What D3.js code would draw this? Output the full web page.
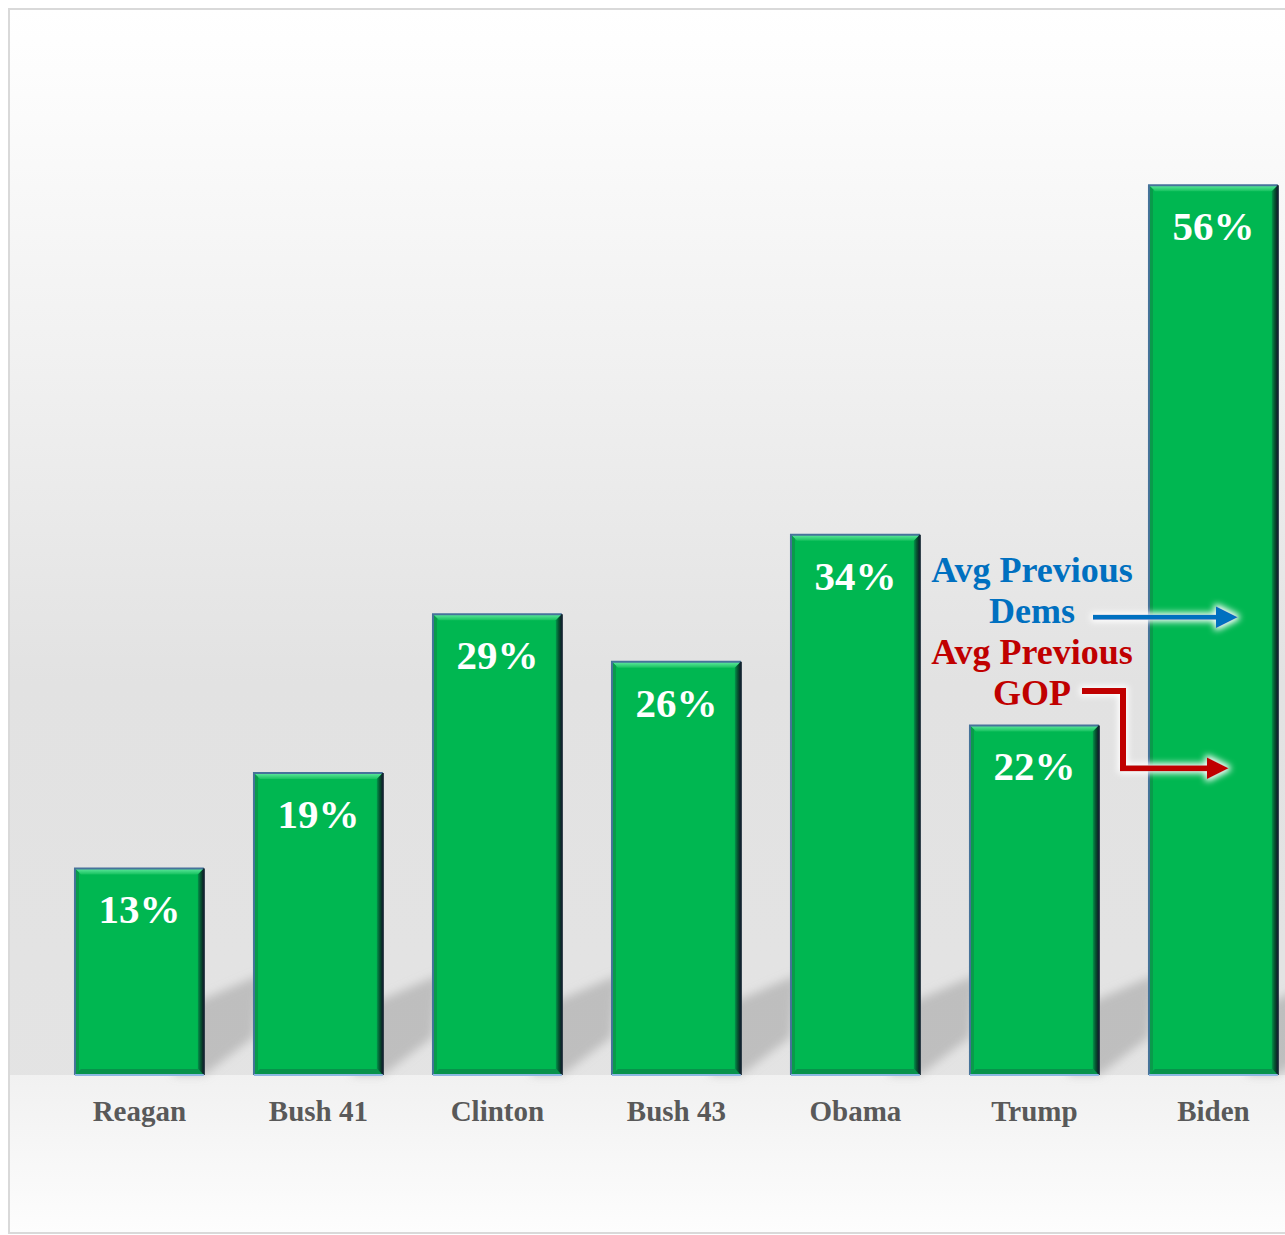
<!DOCTYPE html>
<html>
<head>
<meta charset="utf-8">
<script src="https://cdn.jsdelivr.net/npm/d3@7"></script>
<style>
  html, body { margin: 0; padding: 0; background: #ffffff; }
  svg { display: block; }
</style>
</head>
<body>
<svg id="chart" width="1285" height="1235"></svg>
<script>
// Presidents and share values (%)
const presidents = ["Reagan", "Bush 41", "Clinton", "Bush 43", "Obama", "Trump", "Biden"];
const shares = [13, 19, 29, 26, 34, 22, 56];
const shareLabels = ["13%", "19%", "29%", "26%", "34%", "22%", "56%"];

// Reference levels marked on the last bar
const avgLabels = [["Avg Previous", "Dems"], ["Avg Previous", "GOP"]];
const avgValues = [28.8, 19.3];

const baseY = 1075;
const svg = d3.select("#chart");
const defs = svg.append("defs");

// Background gradients
const bg = defs.append("linearGradient").attr("id", "bgGrad")
  .attr("x1", 0).attr("y1", 0).attr("x2", 0).attr("y2", 1);
[[0, "#ffffff"], [0.05, "#fdfdfd"], [0.3, "#f0f0f0"], [0.55, "#e2e2e2"], [1, "#e4e4e4"]]
  .forEach(([o, c]) => bg.append("stop").attr("offset", o).attr("stop-color", c));
const floor = defs.append("linearGradient").attr("id", "floorGrad")
  .attr("x1", 0).attr("y1", 0).attr("x2", 0).attr("y2", 1);
[[0, "#f1f1f1"], [1, "#fdfdfd"]]
  .forEach(([o, c]) => floor.append("stop").attr("offset", o).attr("stop-color", c));

// Bevel gradients
const topBevel = defs.append("linearGradient").attr("id", "topBevel")
  .attr("x1", 0).attr("y1", 0).attr("x2", 0).attr("y2", 1);
[[0, "#63eaa0"], [1, "#16c25f"]]
  .forEach(([o, c]) => topBevel.append("stop").attr("offset", o).attr("stop-color", c));
const rightBevel = defs.append("linearGradient").attr("id", "rightBevel")
  .attr("x1", 0).attr("y1", 0).attr("x2", 1).attr("y2", 0);
[[0, "#03934a"], [0.5, "#06502f"], [1, "#0c1f24"]]
  .forEach(([o, c]) => rightBevel.append("stop").attr("offset", o).attr("stop-color", c));

const blur = defs.append("filter").attr("id", "shadowBlur")
  .attr("x", "-50%").attr("y", "-50%").attr("width", "200%").attr("height", "200%");
blur.append("feGaussianBlur").attr("stdDeviation", 5);

const glow = defs.append("filter").attr("id", "glow")
  .attr("x", "-20%").attr("y", "-50%").attr("width", "140%").attr("height", "200%");
glow.append("feMorphology").attr("in", "SourceAlpha").attr("operator", "dilate").attr("radius", 2).attr("result", "d");
glow.append("feGaussianBlur").attr("in", "d").attr("stdDeviation", 3).attr("result", "b");
glow.append("feFlood").attr("flood-color", "#ffffff").attr("result", "w");
glow.append("feComposite").attr("in", "w").attr("in2", "b").attr("operator", "in").attr("result", "wb");
const gm = glow.append("feMerge");
gm.append("feMergeNode").attr("in", "wb");
gm.append("feMergeNode").attr("in", "SourceGraphic");

// Frame and backgrounds
svg.append("rect").attr("x", 9).attr("y", 9).attr("width", 1300).attr("height", 1224)
  .attr("fill", "url(#bgGrad)");
svg.append("rect").attr("x", 9).attr("y", baseY).attr("width", 1300).attr("height", 1233 - baseY)
  .attr("fill", "url(#floorGrad)");
svg.append("rect").attr("x", 9).attr("y", 9).attr("width", 1300).attr("height", 1224)
  .attr("fill", "none").attr("stroke", "#d9d9d9").attr("stroke-width", 2);

// Scales
const x = d3.scaleBand().domain(presidents).range([49.9, 1302.9])
  .paddingInner(0.28).paddingOuter(0.14);
const y = d3.scaleLinear().domain([0, 60]).range([baseY, baseY - 60 * 15.89]);

const data = presidents.map((p, i) => ({ name: p, value: shares[i], label: shareLabels[i] }));

// Cast shadows behind bars
svg.append("g").attr("filter", "url(#shadowBlur)")
  .selectAll("polygon").data(data).join("polygon")
  .attr("fill", "#a0a0a0").attr("opacity", 0.55)
  .attr("points", d => {
    const x1 = x(d.name) + x.bandwidth();
    const b = y(0);
    return [[x1 - 30, b], [x1, b], [x1 + 50, b - 38], [x1 + 56, b - 100], [x1, b - 76], [x1 - 30, b - 60]]
      .map(p => p.join(",")).join(" ");
  });

// Bars with bevelled edges
const bev = 6;
const bars = svg.append("g").selectAll("g").data(data).join("g");
bars.append("rect")
  .attr("x", d => x(d.name)).attr("y", d => y(d.value))
  .attr("width", x.bandwidth()).attr("height", d => y(0) - y(d.value))
  .attr("fill", "#00b751");
bars.append("polygon").attr("fill", "url(#topBevel)")
  .attr("points", d => {
    const x0 = x(d.name), x1 = x0 + x.bandwidth(), t = y(d.value);
    return [[x0, t], [x1, t], [x1 - bev, t + bev], [x0 + bev, t + bev]].map(p => p.join(",")).join(" ");
  });
bars.append("polygon").attr("fill", "url(#rightBevel)")
  .attr("points", d => {
    const x0 = x(d.name), x1 = x0 + x.bandwidth(), t = y(d.value), b = y(0);
    return [[x1, t], [x1, b], [x1 - bev, b - bev], [x1 - bev, t + bev]].map(p => p.join(",")).join(" ");
  });
bars.append("polygon").attr("fill", "#0a9a4b")
  .attr("points", d => {
    const x0 = x(d.name), t = y(d.value), b = y(0);
    return [[x0, t], [x0 + 4, t + 4], [x0 + 4, b - 4], [x0, b]].map(p => p.join(",")).join(" ");
  });
bars.append("polygon").attr("fill", "#07924a")
  .attr("points", d => {
    const x0 = x(d.name), x1 = x0 + x.bandwidth(), b = y(0);
    return [[x0, b], [x1, b], [x1 - bev, b - bev], [x0 + bev, b - bev]].map(p => p.join(",")).join(" ");
  });
// outline: blue-grey top/left, dark right, light blue base
bars.append("path").attr("fill", "none").attr("stroke", "#46739a").attr("stroke-width", 2)
  .attr("d", d => {
    const x0 = x(d.name), x1 = x0 + x.bandwidth(), t = y(d.value), b = y(0);
    return `M${x0},${b} L${x0},${t} L${x1},${t}`;
  });
bars.append("line").attr("stroke", "#122430").attr("stroke-width", 2)
  .attr("x1", d => x(d.name) + x.bandwidth()).attr("x2", d => x(d.name) + x.bandwidth())
  .attr("y1", d => y(d.value)).attr("y2", y(0));
bars.append("line").attr("stroke", "#8db8e2").attr("stroke-width", 2)
  .attr("x1", d => x(d.name)).attr("x2", d => x(d.name) + x.bandwidth())
  .attr("y1", y(0)).attr("y2", y(0));

// Value labels inside bar tops
bars.append("text")
  .attr("x", d => x(d.name) + x.bandwidth() / 2)
  .attr("y", d => y(d.value) + 55)
  .attr("text-anchor", "middle")
  .attr("font-family", "'Liberation Serif', 'Times New Roman', serif")
  .attr("font-weight", "bold").attr("font-size", 41)
  .attr("fill", "#ffffff")
  .text(d => d.label);

// Category axis
const xAxis = svg.append("g").attr("transform", `translate(0,${baseY})`)
  .call(d3.axisBottom(x).tickSize(0).tickPadding(25));
xAxis.select(".domain").remove();
xAxis.selectAll("text")
  .attr("font-family", "'Liberation Serif', 'Times New Roman', serif")
  .attr("font-weight", "bold").attr("font-size", 29)
  .attr("fill", "#595959");

// Reference annotations with arrows
const bidenX0 = x("Biden");
const annColors = ["#0070c0", "#c00000"];
const annCx = 1032;
const annBase = [582, 664];
avgLabels.forEach((lines, i) => {
  const t = svg.append("text")
    .attr("text-anchor", "middle")
    .attr("font-family", "'Liberation Serif', 'Times New Roman', serif")
    .attr("font-weight", "bold").attr("font-size", 36)
    .attr("fill", annColors[i]);
  lines.forEach((ln, j) => t.append("tspan").attr("x", annCx).attr("y", annBase[i] + j * 41).text(ln));
});

function arrowHead(g, xTip, yv, color) {
  g.append("polygon").attr("fill", color)
    .attr("points", [[xTip, yv], [xTip - 22, yv - 11], [xTip - 22, yv + 11]].map(p => p.join(",")).join(" "));
}

// Dems arrow: straight
const gD = svg.append("g").attr("filter", "url(#glow)");
const yD = y(avgValues[0]);
gD.append("line").attr("x1", 1093).attr("x2", 1218).attr("y1", yD).attr("y2", yD)
  .attr("stroke", annColors[0]).attr("stroke-width", 5);
arrowHead(gD, bidenX0 + 89, yD, annColors[0]);

// GOP arrow: elbow from the label down to the level
const gG = svg.append("g").attr("filter", "url(#glow)");
const yG = y(avgValues[1]);
gG.append("path").attr("fill", "none").attr("stroke", annColors[1]).attr("stroke-width", 6)
  .attr("stroke-linejoin", "miter")
  .attr("d", `M1082,691 L1123,691 L1123,${yG} L1208,${yG}`);
arrowHead(gG, bidenX0 + 80, yG, annColors[1]);
</script>
</body>
</html>
